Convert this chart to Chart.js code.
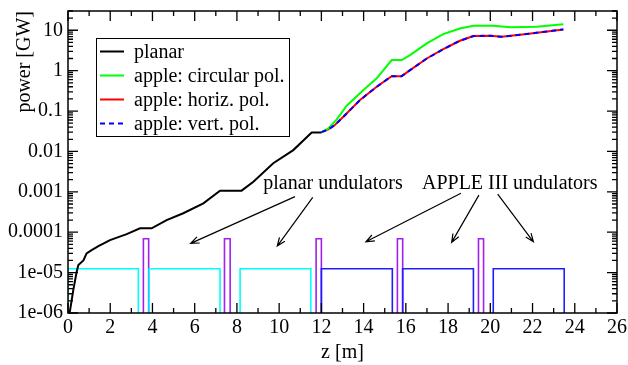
<!DOCTYPE html>
<html>
<head>
<meta charset="utf-8">
<script src="https://cdn.jsdelivr.net/npm/chart.js@4/dist/chart.umd.min.js"></script>
<style>
  html, body { margin: 0; padding: 0; background: #fff; }
  #wrap { width: 628px; height: 365px; }
</style>
</head>
<body>
<div id="wrap"><canvas id="powerChart" width="628" height="365"></canvas></div>
<script>
// gain curves, z in metres, power in GW
const zPlanar = [0, 0.09, 0.25, 0.41, 0.49, 0.73, 0.88, 1.12, 1.44, 1.99, 2.78, 3.41, 3.96, 4.67, 5.46, 6.41, 7.2, 8.22, 8.78, 9.72, 10.67, 11.54, 12.01]
const pPlanar = [1e-6, 1.1e-6, 3.7e-6, 1.05e-5, 1.55e-5, 2.0e-5, 3.0e-5, 3.6e-5, 4.5e-5, 6.4e-5, 9.0e-5, 1.25e-4, 1.25e-4, 2.0e-4, 2.95e-4, 5.2e-4, 1.07e-3, 1.07e-3, 1.78e-3, 5.1e-3, 0.0108, 0.0296, 0.0296]

const zApple = [12.01, 12.33, 12.64, 13.04, 13.83, 14.62, 15.33, 15.8, 16.2, 16.99, 17.77, 18.56, 19.2, 19.99, 20.54, 21.72, 23.46]
const pHoriz = [0.0300, 0.0352, 0.045, 0.072, 0.187, 0.40, 0.73, 0.73, 1.03, 2.0, 3.4, 5.5, 7.2, 7.3, 6.9, 8.05, 10.5]
const pVert = [0.0300, 0.0352, 0.045, 0.072, 0.187, 0.40, 0.73, 0.73, 1.03, 2.0, 3.4, 5.5, 7.2, 7.3, 6.9, 8.05, 10.5]

const zCircular = [12.01, 12.33, 12.73, 13.2, 13.99, 14.62, 15.33, 15.8, 16.2, 16.99, 17.77, 18.56, 19.2, 20.14, 20.93, 22.2, 23.46]
const pCircular = [0.0300, 0.037, 0.062, 0.135, 0.33, 0.645, 1.83, 1.83, 2.43, 4.74, 8.05, 11.1, 12.9, 12.9, 11.8, 12.2, 14.1]

// lattice sketch (start, end in m)
const planarUndulators = [[0, 3.33], [3.84, 7.2], [8.15, 11.5]]
const appleUndulators = [[12.0, 15.36], [15.85, 19.2], [20.14, 23.5]]
const phaseShifters = [[3.57, 3.82], [7.41, 7.68], [11.75, 12.0], [15.6, 15.85], [19.44, 19.68]]
const undulatorLevel = 1.25e-5
const shifterLevel = 6.9e-5
const floorLevel = 1e-6

const yTicks = [1e-6, 1e-5, 1e-4, 1e-3, 0.01, 0.1, 1, 10]
const yTickLabels = ['1e-06', '1e-05', '0.0001', '0.001', '0.01', '0.1', '1', '10']

// annotations: text at (z, power), arrows from tail to head
const noteTexts = [
  { text: 'planar undulators', z: 12.55, p: 1.56e-3 },
  { text: 'APPLE III undulators', z: 20.92, p: 1.56e-3 },
]
const noteArrows = [
  [10.75, 7.6e-4, 5.81, 5.3e-5],
  [11.59, 7.3e-4, 9.91, 4.55e-5],
  [18.61, 9.2e-4, 14.11, 5.8e-5],
  [19.46, 8.3e-4, 18.17, 5.6e-5],
  [20.35, 8.8e-4, 22.04, 5.8e-5],
]

const FONT = "'Liberation Serif', 'Times New Roman', serif"

function toPoints(xs, ys) {
  return xs.map((x, i) => ({ x: x, y: ys[i] }))
}

function boxPoints(ranges, level) {
  const pts = []
  ranges.forEach(([a, b]) => {
    pts.push({ x: a, y: floorLevel }, { x: a, y: level }, { x: b, y: level }, { x: b, y: floorLevel })
    pts.push({ x: b, y: null })
  })
  return pts
}

const framePlugin = {
  id: 'frame',
  afterDatasetsDraw(chart) {
    const { ctx, chartArea: a, scales } = chart
    const xs = scales.x
    const ys = scales.y
    ctx.save()
    ctx.strokeStyle = '#000'
    ctx.lineWidth = 1.5
    ctx.strokeRect(a.left, a.top, a.right - a.left, a.bottom - a.top)

    ctx.lineWidth = 1.3
    ctx.beginPath()
    for (let z = 0; z <= 26; z += 1) {
      const px = xs.getPixelForValue(z)
      const len = z % 2 === 0 ? 10 : 5
      ctx.moveTo(px, a.bottom); ctx.lineTo(px, a.bottom - len)
      ctx.moveTo(px, a.top); ctx.lineTo(px, a.top + len)
    }
    for (let e = -6; e <= 1; e++) {
      for (let m = 1; m <= 9; m++) {
        const v = m * Math.pow(10, e)
        if (v > ys.max) break
        const py = ys.getPixelForValue(v)
        const len = m === 1 ? 10 : 5
        ctx.moveTo(a.left, py); ctx.lineTo(a.left + len, py)
        ctx.moveTo(a.right, py); ctx.lineTo(a.right - len, py)
      }
    }
    ctx.stroke()

    // arrows
    ctx.lineWidth = 1.2
    noteArrows.forEach(([z0, p0, z1, p1]) => {
      const x0 = xs.getPixelForValue(z0), y0 = ys.getPixelForValue(p0)
      const x1 = xs.getPixelForValue(z1), y1 = ys.getPixelForValue(p1)
      const ang = Math.atan2(y1 - y0, x1 - x0)
      const h = 9
      ctx.beginPath()
      ctx.moveTo(x0, y0); ctx.lineTo(x1, y1)
      ctx.moveTo(x1 - h * Math.cos(ang - 0.38), y1 - h * Math.sin(ang - 0.38))
      ctx.lineTo(x1, y1)
      ctx.lineTo(x1 - h * Math.cos(ang + 0.38), y1 - h * Math.sin(ang + 0.38))
      ctx.stroke()
    })

    ctx.fillStyle = '#000'
    ctx.font = '20px ' + FONT
    ctx.textAlign = 'center'
    ctx.textBaseline = 'middle'
    noteTexts.forEach((n) => {
      ctx.fillText(n.text, xs.getPixelForValue(n.z), ys.getPixelForValue(n.p))
    })

    // legend
    const items = chart.data.datasets.filter((d) => d.label)
    const lx = 96, ly = 38, lw = 193, lh = 98
    ctx.fillStyle = '#fff'
    ctx.fillRect(lx, ly, lw, lh)
    ctx.lineWidth = 1
    ctx.strokeStyle = '#000'
    ctx.strokeRect(lx + 0.5, ly + 0.5, lw, lh)
    ctx.textAlign = 'left'
    items.forEach((d, i) => {
      const cy = ly + 13.5 + i * 24
      ctx.strokeStyle = d.borderColor
      ctx.lineWidth = 2
      ctx.setLineDash(d.borderDash || [])
      ctx.beginPath()
      ctx.moveTo(lx + 4, cy); ctx.lineTo(lx + 28, cy)
      ctx.stroke()
      ctx.setLineDash([])
      ctx.fillStyle = '#000'
      ctx.fillText(d.label, lx + 38, cy + 1)
    })
    ctx.restore()
  },
}

Chart.defaults.color = '#000'
Chart.defaults.font.family = FONT
Chart.defaults.font.size = 20

const lineStyle = { fill: false, pointRadius: 0, tension: 0, borderWidth: 2 }

new Chart(document.getElementById('powerChart'), {
  type: 'line',
  data: {
    datasets: [
      { ...lineStyle, label: 'planar', data: toPoints(zPlanar, pPlanar), borderColor: '#000000', order: 1 },
      { ...lineStyle, label: 'apple: circular pol.', data: toPoints(zCircular, pCircular), borderColor: '#00ff00', order: 2 },
      { ...lineStyle, label: 'apple: horiz. pol.', data: toPoints(zApple, pHoriz), borderColor: '#ff0000', order: 3 },
      { ...lineStyle, label: 'apple: vert. pol.', data: toPoints(zApple, pVert), borderColor: '#0000ff', borderDash: [5, 4], order: 0 },
      { ...lineStyle, data: boxPoints(planarUndulators, undulatorLevel), borderColor: '#00ffff', borderWidth: 1.6, spanGaps: false, order: 5 },
      { ...lineStyle, data: boxPoints(appleUndulators, undulatorLevel), borderColor: '#1e1eff', borderWidth: 1.6, spanGaps: false, order: 5 },
      { ...lineStyle, data: boxPoints(phaseShifters, shifterLevel), borderColor: '#a020f0', borderWidth: 1.6, spanGaps: false, order: 5 },
    ],
  },
  options: {
    responsive: false,
    animation: false,
    layout: { padding: { top: 11, right: 11, left: 0, bottom: 0 } },
    plugins: { legend: { display: false }, tooltip: { enabled: false } },
    scales: {
      x: {
        type: 'linear',
        min: 0,
        max: 26,
        grid: { display: false, drawTicks: false },
        border: { display: false },
        ticks: { stepSize: 2, padding: 3, maxRotation: 0, font: { family: FONT, size: 20 } },
        title: { display: true, text: 'z [m]', padding: { top: 0, bottom: 0 }, font: { family: FONT, size: 20 } },
        afterFit: (s) => {
          s.height = 52
          s.paddingLeft = 0
          s.paddingRight = 0
        },
      },
      y: {
        type: 'logarithmic',
        min: 1e-6,
        max: 30,
        grid: { display: false, drawTicks: false },
        border: { display: false },
        ticks: {
          padding: 5,
          font: { family: FONT, size: 20 },
          callback: (v, i) => yTickLabels[i],
        },
        afterBuildTicks: (s) => { s.ticks = yTicks.map((v) => ({ value: v })) },
        title: { display: true, text: 'power [GW]', align: 'end', padding: { top: 13, bottom: 0 }, font: { family: FONT, size: 20 } },
        afterFit: (s) => {
          s.width = 68
          s.paddingTop = 0
          s.paddingBottom = 0
        },
      },
    },
  },
  plugins: [framePlugin],
})
</script>
</body>
</html>
